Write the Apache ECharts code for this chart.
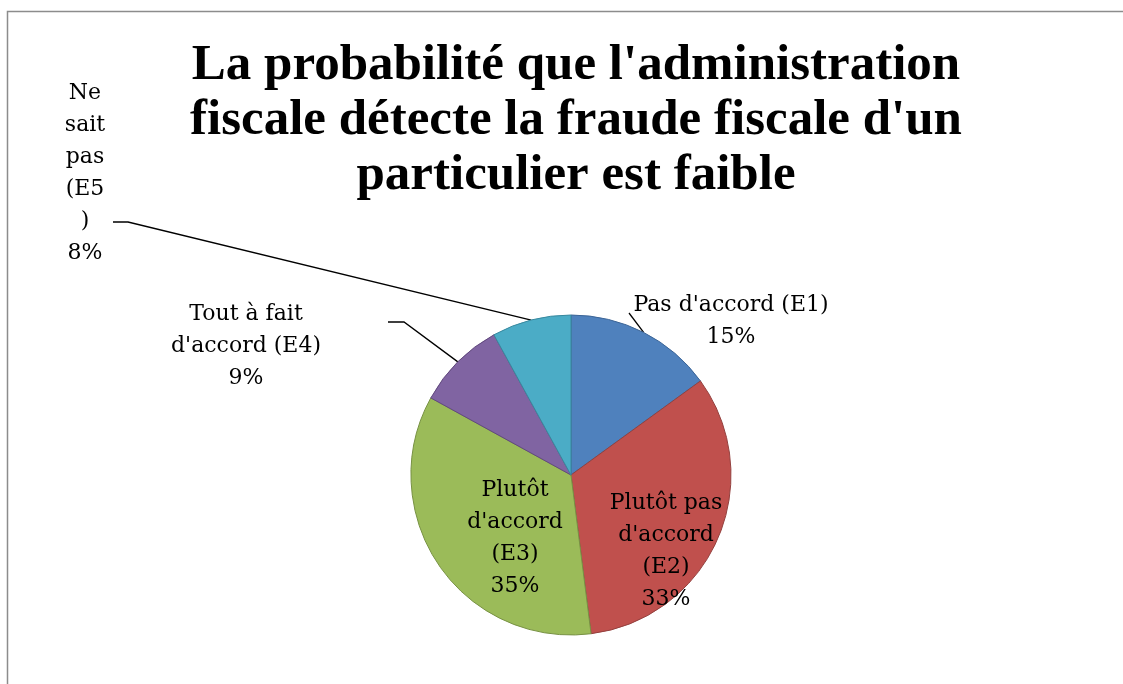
<!DOCTYPE html>
<html>
<head>
<meta charset="utf-8">
<script src="https://cdn.jsdelivr.net/npm/echarts@6/dist/echarts.min.js"></script>
<style>
  html, body { margin: 0; padding: 0; background: #fff; }
  #chart { width: 1123px; height: 684px; }
</style>
</head>
<body>
<div id="chart"></div>
<script>
const categories = ["Pas d'accord (E1)", "Plutôt pas d'accord (E2)", "Plutôt d'accord (E3)", "Tout à fait d'accord (E4)", "Ne sait pas (E5)"];
const values = [15, 33, 35, 9, 8];
// how each label is broken into lines in the picture
const labelLines = [
    ["Pas d'accord (E1)"],
    ["Plutôt pas", "d'accord", "(E2)"],
    ["Plutôt", "d'accord", "(E3)"],
    ["Tout à fait", "d'accord (E4)"],
    ["Ne", "sait", "pas", "(E5", ")"]
];
const colors = ["#4F81BD", "#C0504D", "#9BBB59", "#8064A2", "#4BACC6"];
const borders = ["#3B6496", "#93403E", "#779143", "#61497D", "#38889E"];

// where the label blocks sit (centre of text block)
const labelPos = [[731, 321], [666, 551], [515, 538], [246, 346], [85, 173]];
// bend points of the leader lines, after the anchor on the slice edge
const leaderBends = [[[629, 313]], null, null, [[404, 322], [388, 322]], [[128, 222], [113, 222]]];

const chart = echarts.init(document.getElementById("chart"));
const fontFamily = "'DejaVu Serif', 'Liberation Serif', serif";

const option = {
    animation: false,
    title: {
        text: "La probabilité que l'administration\nfiscale détecte la fraude fiscale d'un\nparticulier est faible",
        left: 571,
        textAlign: "center",
        top: 33,
        textStyle: {
            fontFamily: "'Liberation Serif', serif",
            fontWeight: "bold",
            fontSize: 51,
            lineHeight: 55,
            color: "#000"
        }
    },
    graphic: [{
        type: "rect",
        shape: { x: 7.5, y: 11.5, width: 1300, height: 900 },
        style: { fill: "none", stroke: "#8c8c8c", lineWidth: 1.5 },
        silent: true
    }],
    series: [{
        type: "pie",
        center: [571, 475],
        radius: 160,
        startAngle: 90,
        clockwise: true,
        percentPrecision: 0,
        data: categories.map((name, i) => ({
            name: name,
            value: values[i],
            itemStyle: { color: colors[i], borderColor: borders[i], borderWidth: 1 },
            labelLine: { show: leaderBends[i] !== null }
        })),
        label: {
            show: true,
            position: "outside",
            fontFamily: fontFamily,
            fontSize: 22,
            lineHeight: 32,
            color: "#000",
            align: "center",
            formatter: function (p) {
                return labelLines[p.dataIndex].join("\n") + "\n" + p.percent + "%";
            }
        },
        labelLine: {
            show: true,
            length: 20,
            length2: 15,
            lineStyle: { color: "#000", width: 1.3 }
        },
        labelLayout: function (params) {
            const i = params.dataIndex;
            const p = labelPos[i];
            const out = {
                x: p[0],
                y: p[1],
                align: "center",
                verticalAlign: "middle"
            };
            if (leaderBends[i] && params.labelLinePoints) {
                out.labelLinePoints = [params.labelLinePoints[0]].concat(leaderBends[i]);
            }
            return out;
        }
    }]
};
chart.setOption(option);
</script>
</body>
</html>
